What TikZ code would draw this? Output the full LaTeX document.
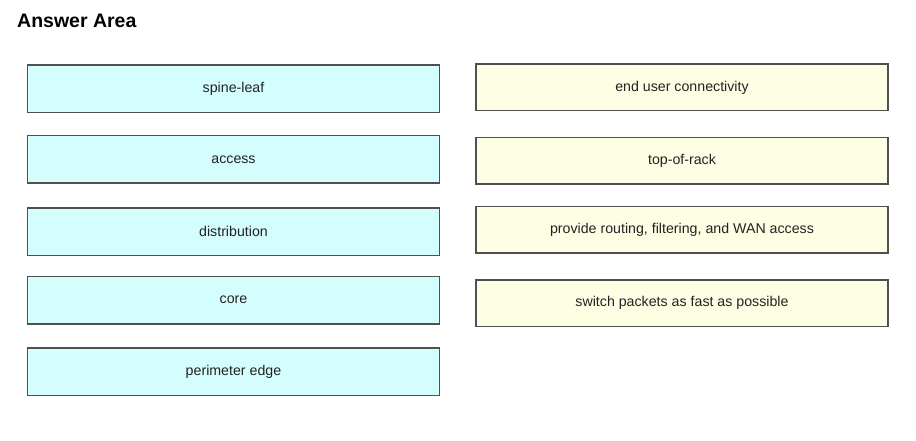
\documentclass[tikz,border=0pt]{standalone}
\usepackage{fontspec}
\setmainfont{Liberation Sans}
\definecolor{cyanbox}{HTML}{D4FEFE}
\definecolor{yelbox}{HTML}{FEFEE4}
\definecolor{boxline}{HTML}{505050}
\definecolor{txt}{HTML}{222222}
\begin{document}
\begin{tikzpicture}[x=1pt,y=-1pt,
  box/.style={draw=boxline,line width=1.5pt,text=txt,inner sep=0pt,
    minimum width=412pt,font=\fontsize{14.2}{16}\selectfont},
  lbox/.style={box,fill=cyanbox,minimum height=47.5pt},
  rbox/.style={box,fill=yelbox,minimum height=46.5pt}]
\useasboundingbox (0,0) rectangle (916,441);
\node[anchor=base west,inner sep=0pt,font=\bfseries\fontsize{19.5}{22}\selectfont] (title) at (17,28) {Answer Area};
% left column
\node[lbox] (l1) at (233.5,89) {spine-leaf};
\node[lbox] (l2) at (233.5,159.5) {access};
\node[lbox] (l3) at (233.5,231.5) {distribution};
\node[lbox] (l4) at (233.5,300) {core};
\node[lbox] (l5) at (233.5,371.5) {perimeter edge};
% right column
\node[rbox] (r1) at (682,87.5) {end user connectivity};
\node[rbox] (r2) at (682,161) {top-of-rack};
\node[rbox] (r3) at (682,229.5) {provide routing, filtering, and WAN access};
\node[rbox] (r4) at (682,303) {switch packets as fast as possible};
\end{tikzpicture}
\end{document}
